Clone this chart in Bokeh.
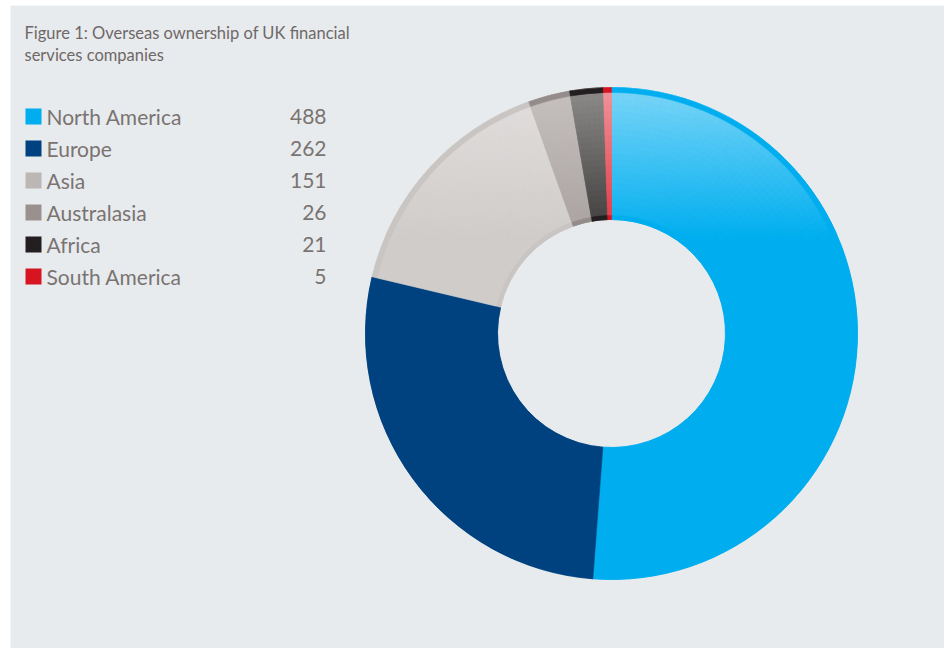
import numpy as np
from bokeh.plotting import figure
from bokeh.models import Range1d
from bokeh.core.properties import value
from bokeh.embed import file_html
from bokeh.resources import INLINE

# ---------------- data ----------------
title_lines = ["Figure 1: Overseas ownership of UK financial", "services companies"]
regions = ["North America", "Europe", "Asia", "Australasia", "Africa", "South America"]
counts = [488, 262, 151, 26, 21, 5]
legend_colors = ["#00aeef", "#00427f", "#bcb6b4", "#9a918f", "#231f20", "#d7141f"]
base_colors = ["#00aeef", "#00427f", "#d0ccca", "#a8a19f", "#3b3838", "#e2323d"]
light_colors = ["#7ad5f7", "#00427f", "#e1dedd", "#c6c1bf", "#8e8b8b", "#f0959b"]
rim_colors = ["#00aeef", "#00427f", "#c9c5c3", "#948c8a", "#231f20", "#d7141f"]

# ---------------- layout ----------------
W, H = 944, 648
CX, CY = 611, 333          # pixel centre of the donut
R_OUT, R_IN = 246, 114
TEXT = "#6f6867"


def Y(py):
    return H - py


def hex2rgb(h):
    h = h.lstrip("#")
    return np.array([int(h[i:i + 2], 16) for i in (0, 2, 4)], dtype=float)


def mix(c1, c2, t):
    c = hex2rgb(c1) * (1 - t) + hex2rgb(c2) * t
    return "#%02x%02x%02x" % tuple(int(round(v)) for v in c)


p = figure(width=W, height=H, x_range=Range1d(0, W), y_range=Range1d(0, H),
           output_backend="svg", toolbar_location=None, min_border=0,
           x_axis_location=None, y_axis_location=None)
p.outline_line_color = None
p.grid.visible = False
p.background_fill_color = "white"
p.border_fill_color = "white"

# panel background
p.quad(left=10, right=W, bottom=0, top=Y(5), fill_color="#e7ebee", line_color=None)

# ---------------- donut ----------------
total = float(sum(counts))
fr = np.array(counts) / total
ends = np.cumsum(fr) * 2 * np.pi          # clockwise from top
starts = ends - fr * 2 * np.pi
start_ang = np.pi / 2 - starts
end_ang = np.pi / 2 - ends

p.annular_wedge(x=CX, y=Y(CY), inner_radius=R_IN, outer_radius=R_OUT,
                start_angle=start_ang, end_angle=end_ang, direction="clock",
                fill_color=base_colors, line_color=base_colors, line_width=0.6)

# vertical light-to-saturated shading on the upper part of each slice
gr_in, gr_out, gs, ge, gc = [], [], [], [], []
rings = np.arange(R_IN, R_OUT, 6.0)
for i in range(len(counts)):
    a0, a1 = starts[i], ends[i]
    n = max(1, int(np.ceil((a1 - a0) / np.radians(1.5))))
    edges = np.linspace(a0, a1, n + 1)
    for k in range(n):
        am = 0.5 * (edges[k] + edges[k + 1])
        for r in rings:
            rm = r + 3.0
            py = CY - rm * np.cos(am)
            t = min(max((py - 88) / 150.0, 0.0), 1.0)
            if t >= 0.99:
                continue
            gr_in.append(r)
            gr_out.append(min(r + 6.0, R_OUT))
            gs.append(np.pi / 2 - edges[k])
            ge.append(np.pi / 2 - edges[k + 1])
            gc.append(mix(light_colors[i], base_colors[i], t))
p.annular_wedge(x=CX, y=Y(CY), inner_radius=gr_in, outer_radius=gr_out,
                start_angle=gs, end_angle=ge, direction="clock",
                fill_color=gc, line_color=gc, line_width=0.8)

# outer and inner rims
p.annular_wedge(x=CX, y=Y(CY), inner_radius=R_OUT - 5, outer_radius=R_OUT,
                start_angle=start_ang, end_angle=end_ang, direction="clock",
                fill_color=rim_colors, line_color=rim_colors, line_width=0.5)
p.annular_wedge(x=CX, y=Y(CY), inner_radius=R_IN, outer_radius=R_IN + 4,
                start_angle=start_ang, end_angle=end_ang, direction="clock",
                fill_color=rim_colors, line_color=rim_colors, line_width=0.5)

# ---------------- title ----------------
for j, line in enumerate(title_lines):
    p.text(x=[24], y=[Y(32 + 22 * j)], text=[line], text_font=value("Lato"),
           text_font_size="16.5px", text_color=TEXT, text_baseline="middle")

# ---------------- legend ----------------
idx = np.arange(len(regions))
ys = [Y(116 + 32 * i) for i in idx]
p.rect(x=[33] * len(regions), y=ys, width=16, height=16,
       fill_color=legend_colors, line_color=None)
p.text(x=[46] * len(regions), y=ys, text=regions,
       text_font=value("Lato"), text_font_size="21px", text_color="#7a7371",
       text_baseline="middle")
p.text(x=[326] * len(regions), y=ys, text=[str(c) for c in counts],
       text_font=value("Lato"), text_font_size="21px", text_color="#7a7371",
       text_baseline="middle", text_align="right")

open("out.html", "w").write(file_html(p, INLINE))
